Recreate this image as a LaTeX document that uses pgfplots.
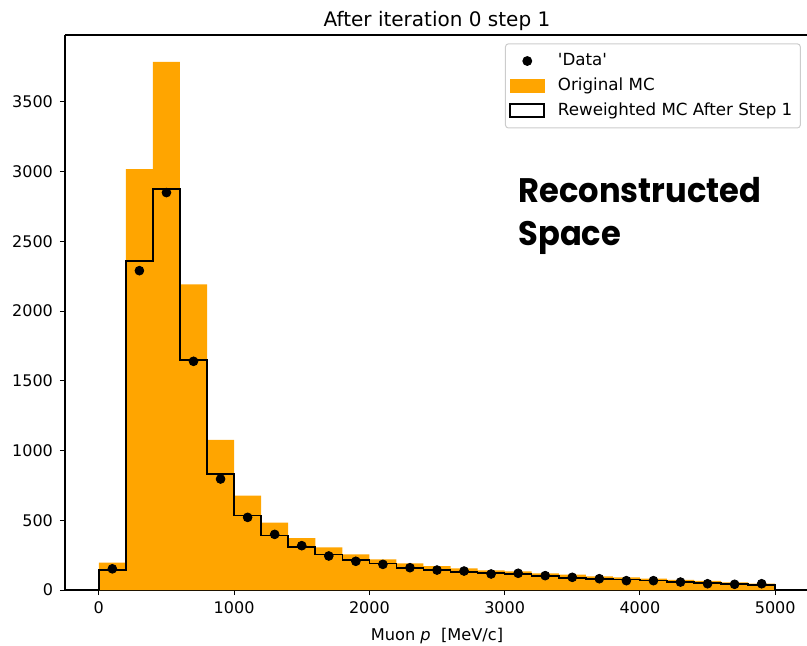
\documentclass[border=0pt]{standalone}
\usepackage{fontspec}
\setmainfont{DejaVu Sans}
\newfontfamily\popfont{Poppins}[FakeStretch=0.945]
\usepackage{pgfplots}
\pgfplotsset{compat=1.18}
\usepackage{pgfplotstable}

\definecolor{mcorange}{HTML}{FFA500}
\definecolor{legframe}{HTML}{CCCCCC}

% Original MC histogram: left bin edge and content (last row closes the final bin)
\pgfplotstableread{
x y
0 196
200 3018
400 3788
600 2191
800 1077
1000 677
1200 483
1400 372
1600 306
1800 256
2000 220
2200 191
2400 172
2600 155
2800 140
3000 134
3200 120
3400 110
3600 98
3800 91
4000 81
4200 72
4400 65
4600 55
4800 45
5000 45
}\mcorig

% Reweighted MC outline (step histogram, closed down to zero at both ends)
\pgfplotstableread{
x y
0 0
0 143
200 2358
400 2877
600 1649
800 831
1000 533
1200 392
1400 308
1600 256
1800 215
2000 189
2200 160
2400 143
2600 129
2800 122
3000 115
3200 100
3400 88
3600 79
3800 74
4000 67
4200 57
4400 50
4600 43
4800 38
5000 38
5000 0
}\mcrew

% 'Data' at bin centres
\pgfplotstableread{
x y
100 152
300 2290
500 2850
700 1640
900 796
1100 521
1300 399
1500 318
1700 244
1900 206
2100 184
2300 160
2500 143
2700 136
2900 115
3100 120
3300 103
3500 91
3700 81
3900 67
4100 67
4300 57
4500 45
4700 41
4900 45
}\recodata

\begin{document}
\begin{tikzpicture}
\begin{axis}[
  scale only axis,
  width=372pt, height=277.5pt,
  xmin=-250, xmax=5250,
  ymin=0, ymax=3980,
  clip mode=individual,
  axis y line*=left,
  xtick={0,1000,2000,3000,4000,5000},
  ytick={0,500,1000,1500,2000,2500,3000,3500},
  scaled ticks=false,
  /pgf/number format/.cd, 1000 sep={}, assume math mode=true, /pgfplots/.cd,
  tick align=outside,
  xtick pos=bottom, ytick pos=left,
  major tick length=2.5pt,
  tick style={line width=0.5pt, black},
  axis line style={line width=0.6pt},
  ticklabel style={font=\fontsize{8}{9.6}\selectfont},
  xlabel={Muon \textit{p}\ \ [MeV/c]},
  xlabel style={font=\fontsize{8.1}{9.7}\selectfont},
  legend cell align=left,
  legend style={
    at={(rel axis cs:0.989,0.985)}, anchor=north east,
    draw=legframe, rounded corners=1.5pt, line width=0.5pt,
    font=\fontsize{8.35}{10}\selectfont,
    row sep=0.6pt, inner xsep=2pt, inner ysep=2.8pt,
    /tikz/every odd column/.append style={column sep=4.5pt},
  },
]
% legend entries
\addlegendimage{only marks, mark=*, mark size=2.2pt, black}
\addlegendentry{\textquotesingle Data\textquotesingle}
\addlegendimage{legend image code/.code={\fill[mcorange, sharp corners] (0pt,-3.2pt) rectangle (17pt,3.2pt);}}
\addlegendentry{Original MC}
\addlegendimage{legend image code/.code={\draw[black, sharp corners, line width=0.75pt, fill=white] (0pt,-3.2pt) rectangle (17pt,3.2pt);}}
\addlegendentry{Reweighted MC After Step 1}

% Original MC
\addplot[forget plot, const plot mark left, fill=mcorange, draw=none] table[x=x, y=y] {\mcorig} \closedcycle;
% Reweighted MC
\addplot[forget plot, const plot mark left, draw=black, line width=0.8pt, line join=miter] table[x=x, y=y] {\mcrew};
% Data points
\addplot[forget plot, only marks, mark=*, mark size=2.2pt, black] table[x=x, y=y] {\recodata};

% plot title
\node[anchor=base, inner sep=0pt, font=\fontsize{10}{12}\selectfont] at (rel axis cs:0.5,1) [yshift=4.5pt] {After iteration 0 step 1};

\node[anchor=base west, inner sep=0pt, font=\popfont\bfseries\fontsize{17}{20}\selectfont] at (rel axis cs:0.609,0.6986) {Reconstructed};
\node[anchor=base west, inner sep=0pt, font=\popfont\bfseries\fontsize{17}{20}\selectfont] at (rel axis cs:0.609,0.6216) {Space};
\end{axis}
\pgfresetboundingbox
\path[use as bounding box] (-32.5pt,-27.5pt) rectangle (371pt,295pt);
\end{tikzpicture}
\end{document}
